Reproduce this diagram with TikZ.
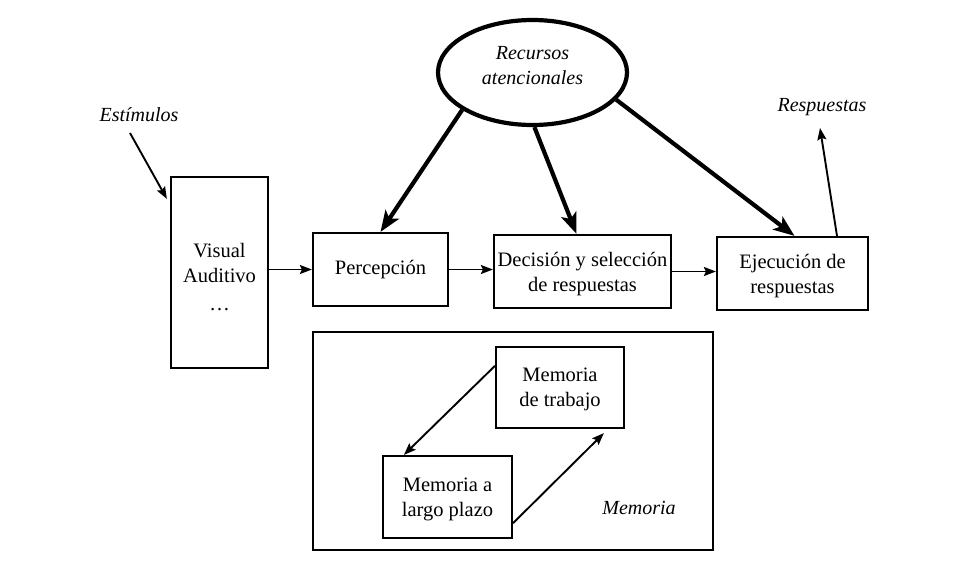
\documentclass[tikz,border=0pt]{standalone}
\usepackage{fontspec}
\setmainfont{Liberation Serif}
\usetikzlibrary{arrows.meta,calc,shapes.geometric}
\begin{document}
\begin{tikzpicture}[x=1pt,y=-1pt,
  itxt/.style={font=\fontsize{20}{25}\selectfont\itshape, align=center},
  boxn/.style={draw, line width=2.2pt, inner sep=0pt, align=center, font=\fontsize{20.5}{25}\selectfont},
  thin/.style={line width=1.9pt, -{Stealth[length=12pt,width=9pt,inset=2pt]}},
  thick/.style={line width=4.2pt, -{Stealth[length=21pt,width=16pt,inset=5pt]}}]
\useasboundingbox (0,0) rectangle (960,562);
\fill[white] (0,0) rectangle (960,562);

% nodes
\node[boxn, minimum width=97pt, minimum height=191pt] (sens) at (219.5,272.5) {\mbox{}\\[-2pt]Visual\\Auditivo\\[3pt]\dots};
\node[boxn, minimum width=135pt, minimum height=73pt] (perc) at (380.5,269.5) {Percepción};
\node[boxn, minimum width=177pt, minimum height=73pt] (dec) at (582.5,271.5) {\mbox{}\\[-5pt]Decisión y selección\\de respuestas};
\node[boxn, minimum width=151pt, minimum height=73pt] (ejec) at (792.5,273.5) {\mbox{}\\[-5pt]Ejecución de\\respuestas};
\node[boxn, minimum width=400pt, minimum height=218pt] (mem) at (513,441) {};
\node[boxn, minimum width=128pt, minimum height=81pt] (mdt) at (560,387.5) {\mbox{}\\[-7pt]Memoria\\de trabajo};
\node[boxn, minimum width=129pt, minimum height=82pt] (mlp) at (447.5,497) {\mbox{}\\[-7pt]Memoria a\\largo plazo};
\node[draw, ellipse, line width=4.2pt, minimum width=189pt, minimum height=105pt, inner sep=0pt] (ell) at (532.5,72.5) {};
\node[itxt] (rec) at (532.5,66) {Recursos\\atencionales};
\node[itxt] (est) at (139,115) {Estímulos};
\node[itxt] (resp) at (822,107) {Respuestas};
\node[itxt] (memlbl) at (639,508) {Memoria};

% coordinates
\coordinate (estS) at (130,133);
\coordinate (respT) at (820,128);

% connectors
\draw[thin] (estS) -- ($(sens.north west)+(-3,23)$);
\draw[thin] (sens.east |- perc.west) -- (perc.west);
\draw[thin] (perc.east) -- (dec.west |- perc.east);
\draw[thin] (dec.east) -- (ejec.west |- dec.east);
\draw[thin] ($(ejec.north)+(44.5,0)$) -- (respT);

\draw[thick] (ell.208) -- (perc.north);
\draw[thick] (ell.272) -- ($(dec.north)+(-6,0)$);
\draw[thick] (ell.-18) -- ($(ejec.north)+(2,0)$);

\draw[thin] ($(mdt.north west)+(0,20)$) -- ($(mlp.north west)+(22,0)$);
\draw[thin] ($(mlp.south east)+(0,-16)$) -- ($(mdt.south west)+(109,4)$);
\end{tikzpicture}
\end{document}
